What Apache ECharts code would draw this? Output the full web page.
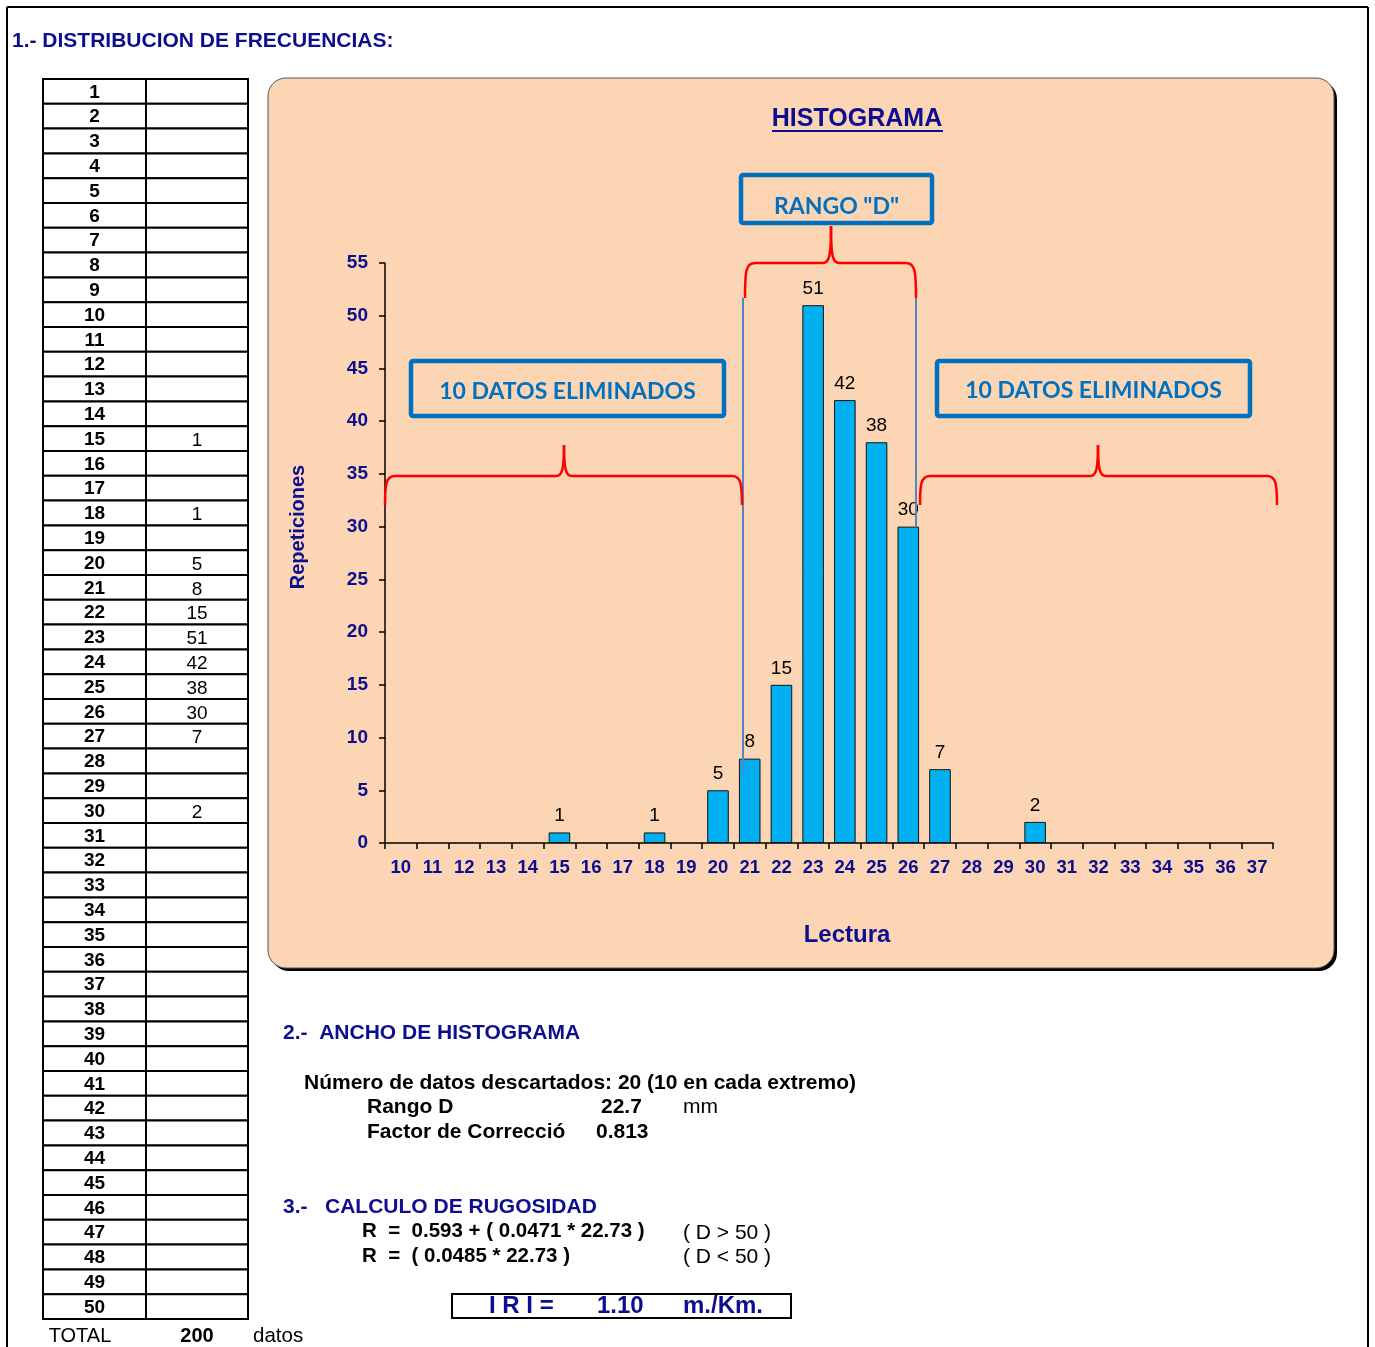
<!DOCTYPE html>
<html>
<head>
<meta charset="utf-8">
<script src="https://cdn.jsdelivr.net/npm/echarts@6/dist/echarts.min.js"></script>
<style>html,body{margin:0;padding:0;background:#fff;}#c{width:1375px;height:1347px;}</style>
</head>
<body>
<div id="c"></div>
<script>
// ---- data ----
const tableReadings = [1,2,3,4,5,6,7,8,9,10,11,12,13,14,15,16,17,18,19,20,21,22,23,24,25,26,27,28,29,30,31,32,33,34,35,36,37,38,39,40,41,42,43,44,45,46,47,48,49,50];
const tableCounts = [null,null,null,null,null,null,null,null,null,null,null,null,null,null,1,null,null,1,null,5,8,15,51,42,38,30,7,null,null,2,null,null,null,null,null,null,null,null,null,null,null,null,null,null,null,null,null,null,null,null];
const chartCategories = ['10','11','12','13','14','15','16','17','18','19','20','21','22','23','24','25','26','27','28','29','30','31','32','33','34','35','36','37'];
const chartCounts = [null,null,null,null,null,1,null,null,1,null,5,8,15,51,42,38,30,7,null,null,2,null,null,null,null,null,null,null];
const yTicks = [0,5,10,15,20,25,30,35,40,45,50,55];
const totalCount = 200;

const NAVY = '#0d0d8f';
const BLUE = '#0070C0';
const ARIAL = '"Liberation Sans", Arial, sans-serif';
const CAL = 'Lato, "Open Sans", sans-serif';

const g = [];
function txt(x, y, s, font, fill, align, z) {
  g.push({type:'text', x:x, y:y, z: z||50, style:{text:s, font:font, fill:fill||'#000', textAlign:align||'left', textVerticalAlign:'middle'}});
}
function line(x1,y1,x2,y2,color,w,z){
  g.push({type:'line', z: z||50, shape:{x1:x1,y1:y1,x2:x2,y2:y2}, style:{stroke:color, lineWidth:w}});
}
function bez(x1,y1,c1x,c1y,c2x,c2y,x2,y2,color,w,z){
  g.push({type:'bezierCurve', z: z||50, shape:{x1:x1,y1:y1,cpx1:c1x,cpy1:c1y,cpx2:c2x,cpy2:c2y,x2:x2,y2:y2}, style:{stroke:color, lineWidth:w, fill:null}});
}

// page border
line(7,7,1368,7,'#000',2);
line(7,7,7,1347,'#000',2);
line(1368,7,1368,1347,'#000',2);

// title
txt(12, 41, '1.- DISTRIBUCION DE FRECUENCIAS:', 'bold 21px ' + ARIAL, NAVY);

// table
const tX0 = 43, tX1 = 146, tX2 = 248, tY0 = 79, rowH = 24.8;
for (let i = 0; i < tableReadings.length; i++) {
  const y = tY0 + i * rowH;
  g.push({type:'rect', z:40, shape:{x:tX0, y:y, width:tX1-tX0, height:rowH}, style:{fill:'#fff', stroke:'#000', lineWidth:2}});
  g.push({type:'rect', z:40, shape:{x:tX1, y:y, width:tX2-tX1, height:rowH}, style:{fill:'#fff', stroke:'#000', lineWidth:2}});
  txt((tX0+tX1)/2, y + rowH/2 + 1, String(tableReadings[i]), 'bold 19px ' + ARIAL, '#000', 'center');
  if (tableCounts[i] != null) txt((tX1+tX2)/2, y + rowH/2 + 2, String(tableCounts[i]), '19px ' + ARIAL, '#000', 'center');
}
txt(80, 1336, 'TOTAL', '20px ' + ARIAL, '#000', 'center');
txt(197, 1336, String(totalCount), 'bold 20px ' + ARIAL, '#000', 'center');
txt(253, 1336, 'datos', '20.5px ' + ARIAL, '#000', 'left');

// chart panel
g.push({type:'rect', z:-20, shape:{x:271, y:81, width:1066, height:890, r:18}, style:{fill:'#000'}});
g.push({type:'rect', z:-19, shape:{x:268, y:78, width:1066, height:890, r:18}, style:{fill:'#FCD5B4', stroke:'#555', lineWidth:1}});

// chart title / axis names
txt(857, 119, 'HISTOGRAMA', 'bold 25px ' + ARIAL, NAVY, 'center');
line(772, 131, 943, 131, NAVY, 2);
g.push({type:'text', x:298, y:527, rotation:Math.PI/2, z:50, style:{text:'Repeticiones', font:'bold 20px ' + ARIAL, fill:NAVY, textAlign:'center', textVerticalAlign:'middle'}});
txt(847, 935, 'Lectura', 'bold 24px ' + ARIAL, NAVY, 'center');

// annotation boxes
function annBox(x, y, w, h, s, ty, clip) {
  txt(x + w/2, ty, s, 'bold 23px ' + CAL, BLUE, 'center', 60);
  if (clip) g.push({type:'rect', z:61, shape:{x:x+3, y:clip, width:w-6, height:y+h-clip-2}, style:{fill:'#FCD5B4'}});
  g.push({type:'rect', z:62, shape:{x:x, y:y, width:w, height:h, r:2}, style:{fill:null, stroke:BLUE, lineWidth:4.5}});
}
annBox(741, 175, 191, 48, 'RANGO "D"', 207, 214);
annBox(411, 361, 313, 55, '10 DATOS ELIMINADOS', 392);
annBox(937, 361, 313, 55, '10 DATOS ELIMINADOS', 391);

// blue range lines
line(743, 298, 743, 773, '#5B83C0', 2, 70);
line(916, 298, 916, 527, '#5B83C0', 2, 70);

// red curly braces (xL, xR, bottom y, bar y, peak x, peak y)
function brace(xL, xR, yb, yh, xp, yp) {
  const R = '#FF0000', W = 2.5, Z = 71;
  bez(xL, yb, xL, yh+8, xL+1, yh, xL+10, yh, R, W, Z);
  line(xL+10, yh, xp-8, yh, R, W, Z);
  bez(xp-8, yh, xp-2, yh, xp, yh-6, xp, yp, R, W, Z);
  bez(xp, yp, xp, yh-6, xp+2, yh, xp+8, yh, R, W, Z);
  line(xp+8, yh, xR-10, yh, R, W, Z);
  bez(xR-10, yh, xR-1, yh, xR, yh+8, xR, yb, R, W, Z);
}
brace(385, 742, 505, 476, 564, 445);
brace(745, 916, 298, 263, 831, 226);
brace(920, 1277, 505, 476, 1098, 445);

// section 2
const SB = 'bold 21px ' + ARIAL, SR = '21px ' + ARIAL;
txt(283, 1033, '2.-  ANCHO DE HISTOGRAMA', SB, NAVY);
txt(304, 1083, 'Número de datos descartados: 20 (10 en cada extremo)', SB, '#000');
txt(367, 1107, 'Rango D', SB, '#000');
txt(601, 1107, '22.7', SB, '#000');
txt(683, 1107, 'mm', SR, '#000');
txt(367, 1132, 'Factor de Correcció', SB, '#000');
txt(596, 1132, '0.813', SB, '#000');

// section 3
txt(283, 1207, '3.-   CALCULO DE RUGOSIDAD', SB, NAVY);
txt(362, 1231, 'R  =  0.593 + ( 0.0471 * 22.73 )', 'bold 20.5px ' + ARIAL, '#000');
txt(683, 1233, '( D > 50 )', SR, '#000');
txt(362, 1256, 'R  =  ( 0.0485 * 22.73 )', 'bold 20.5px ' + ARIAL, '#000');
txt(683, 1257, '( D < 50 )', SR, '#000');
g.push({type:'rect', z:50, shape:{x:452, y:1294, width:339, height:24}, style:{fill:null, stroke:'#000', lineWidth:2}});
txt(489, 1306, 'I R I =', 'bold 24px ' + ARIAL, NAVY);
txt(597, 1306, '1.10', 'bold 24px ' + ARIAL, NAVY);
txt(683, 1306, 'm./Km.', 'bold 24px ' + ARIAL, NAVY);

const chart = echarts.init(document.getElementById('c'), null, {renderer:'canvas', width:1375, height:1347});
chart.setOption({
  animation: false,
  backgroundColor: '#fff',
  grid: {left:385, top:263, width:888, height:580, containLabel:false},
  xAxis: {
    type:'category', data: chartCategories,
    axisLine:{lineStyle:{color:'#000', width:1.5}},
    axisTick:{show:true, alignWithLabel:false, length:6, lineStyle:{color:'#000', width:1.5}},
    axisLabel:{color:NAVY, fontWeight:'bold', fontSize:18.5, fontFamily:ARIAL, margin:15, interval:0}
  },
  yAxis: {
    type:'value', min: yTicks[0], max: yTicks[yTicks.length-1], interval: yTicks[1]-yTicks[0],
    axisLine:{show:true, lineStyle:{color:'#000', width:1.5}},
    axisTick:{show:true, length:6, lineStyle:{color:'#000', width:1.5}},
    splitLine:{show:false},
    axisLabel:{color:NAVY, fontWeight:'bold', fontSize:19, fontFamily:ARIAL, margin:17}
  },
  series: [{
    type:'bar', data: chartCounts, barWidth:'68%',
    itemStyle:{color:'#00B0F0', borderColor:'#111', borderWidth:1},
    label:{show:true, position:'top', distance:7, color:'#000', fontSize:19, fontFamily:ARIAL}
  }],
  graphic: {elements: g}
});
</script>
</body>
</html>
